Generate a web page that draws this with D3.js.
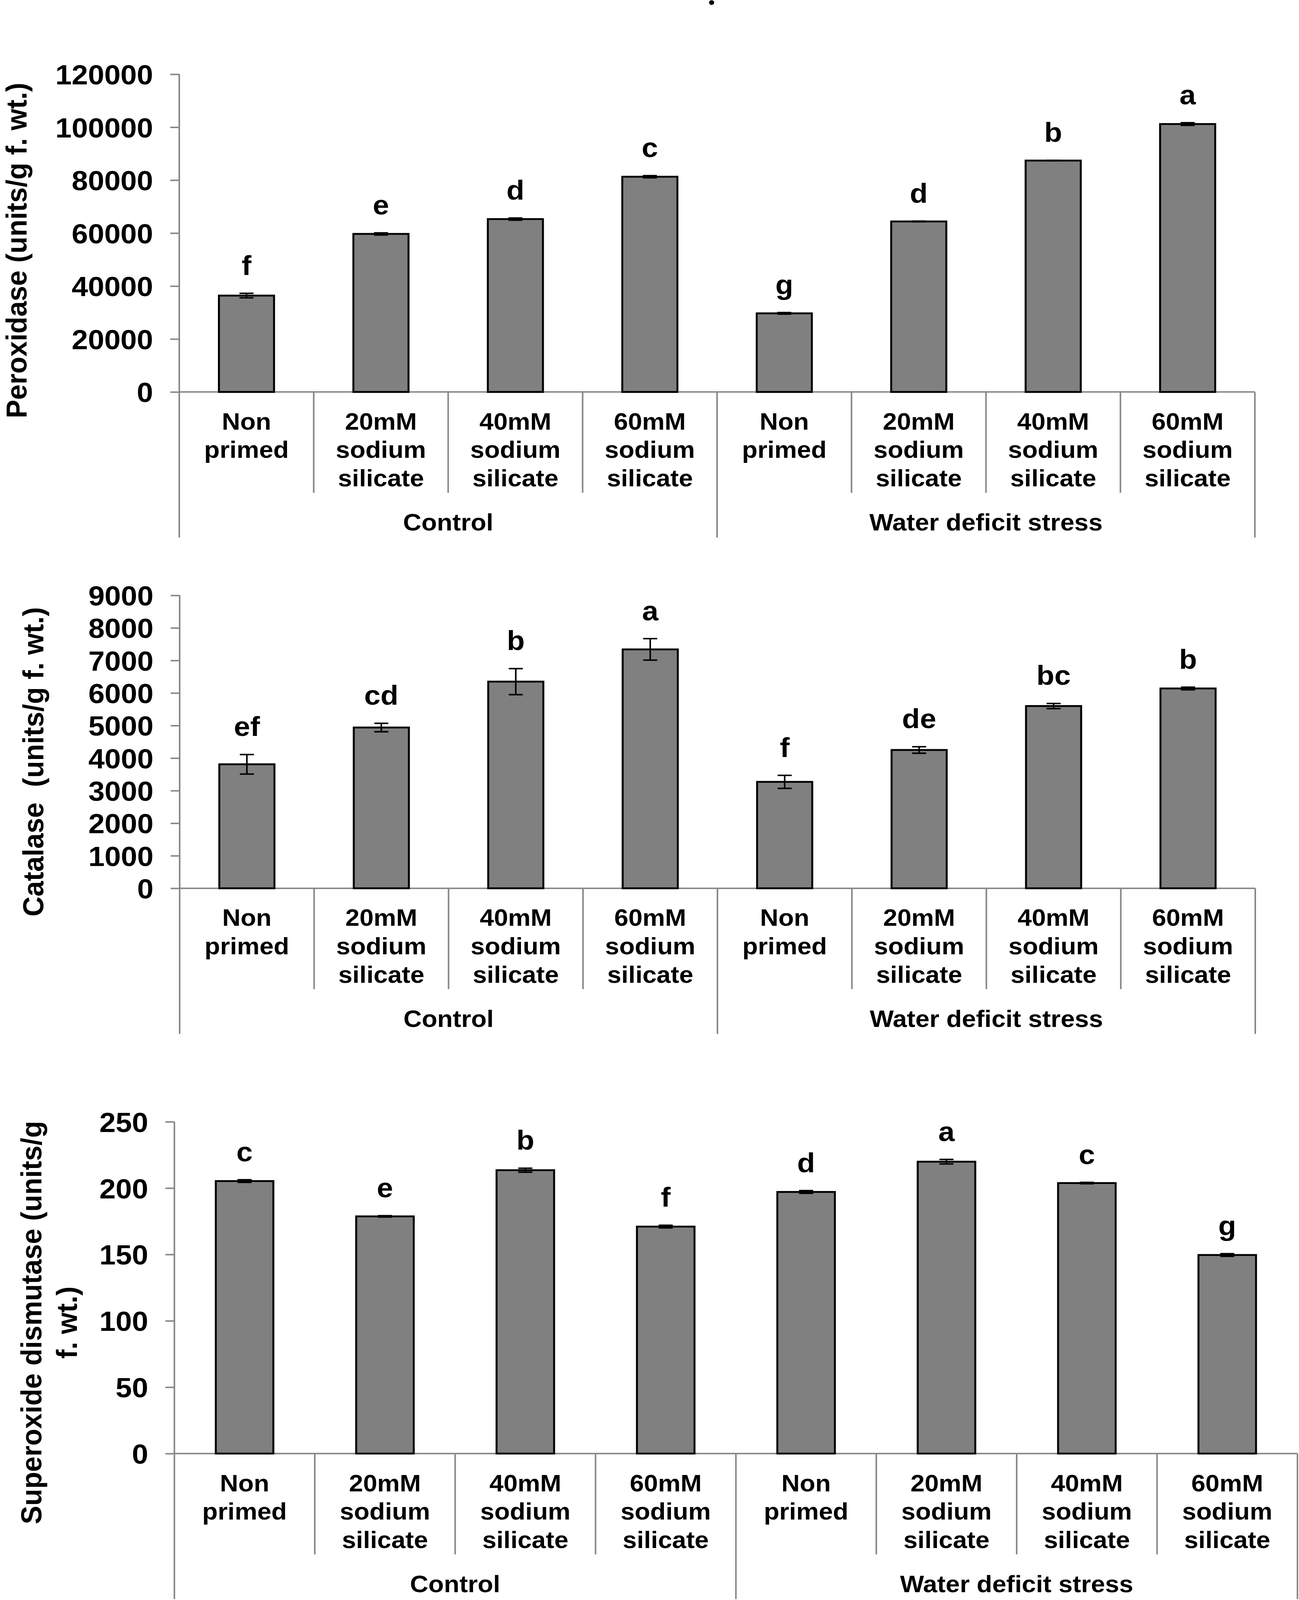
<!DOCTYPE html>
<html>
<head>
<meta charset="utf-8">
<script src="https://cdn.jsdelivr.net/npm/d3@7"></script>
<style>
  html, body { margin: 0; padding: 0; background: #fff; overflow: hidden; width: 100%; height: 100%; }
  svg { display: block; width: 100vw; height: 100vh; }
  text { font-family: "Liberation Sans", Arial, sans-serif; font-weight: bold; fill: #000; }
</style>
</head>
<body>
<script>
// ---------- data ----------
const categoryLines = [
  ["Non", "primed"],
  ["20mM", "sodium", "silicate"],
  ["40mM", "sodium", "silicate"],
  ["60mM", "sodium", "silicate"],
  ["Non", "primed"],
  ["20mM", "sodium", "silicate"],
  ["40mM", "sodium", "silicate"],
  ["60mM", "sodium", "silicate"]
];
const groups = ["Control", "Water deficit stress"];

const peroxidase = [36400, 59700, 65300, 81300, 29700, 64400, 87400, 101200];
const peroxidaseErr = [850, 400, 400, 400, 300, 100, 60, 500];
const peroxidaseLetters = ["f", "e", "d", "c", "g", "d", "b", "a"];
const peroxidaseTicks = [0, 20000, 40000, 60000, 80000, 100000, 120000];

const catalase = [3810, 4940, 6350, 7340, 3270, 4250, 5600, 6140];
const catalaseErr = [300, 130, 400, 330, 200, 100, 80, 40];
const catalaseLetters = ["ef", "cd", "b", "a", "f", "de", "bc", "b"];
const catalaseTicks = [0, 1000, 2000, 3000, 4000, 5000, 6000, 7000, 8000, 9000];

const sod = [205.3, 178.7, 213.5, 171.0, 197.1, 219.9, 203.8, 149.6];
const sodErr = [1.0, 0.5, 1.5, 1.0, 1.0, 1.7, 0.5, 1.0];
const sodLetters = ["c", "e", "b", "f", "d", "a", "c", "g"];
const sodTicks = [0, 50, 100, 150, 200, 250];

// ---------- layout ----------
const W = 3326, H = 4331;
const svg = d3.select("body").append("svg")
  .attr("viewBox", `0 0 ${W} ${H}`)
  .attr("preserveAspectRatio", "none");

const AXIS_COLOR = "#878787";
const panels = [
  { values: peroxidase, errs: peroxidaseErr, letters: peroxidaseLetters, ticks: peroxidaseTicks,
    x0: 459, x1: 3213, yTop: 201, yZero: 1061,
    title: ["Peroxidase (units/g f. wt.)"], titleX: [68], titleY: 678 },
  { values: catalase, errs: catalaseErr, letters: catalaseLetters, ticks: catalaseTicks,
    x0: 460, x1: 3214, yTop: 1611.6, yZero: 2404.5,
    title: ["Catalase  (units/g f. wt.)"], titleX: [111], titleY: 2062 },
  { values: sod, errs: sodErr, letters: sodLetters, ticks: sodTicks,
    x0: 446.5, x1: 3322, yTop: 3036.4, yZero: 3934.6,
    title: ["Superoxide dismutase (units/g", "f. wt.)"], titleX: [106, 197], titleY: 3580 }
];

const idx = d3.range(categoryLines.length);

panels.forEach(p => {
  const g = svg.append("g");
  const x = d3.scaleBand().domain(idx).range([p.x0, p.x1]).paddingInner(0.59).paddingOuter(0.295);
  const xc = d3.scaleBand().domain(idx).range([p.x0, p.x1]).padding(0);
  const y = d3.scaleLinear().domain([0, d3.max(p.ticks)]).range([p.yZero, p.yTop]);

  // y axis with ticks
  const yAxis = d3.axisLeft(y).tickValues(p.ticks).tickSize(23).tickPadding(44).tickSizeOuter(0)
    .tickFormat(d3.format("d"));
  const ag = g.append("g").attr("transform", `translate(${p.x0},0)`).call(yAxis);
  ag.select(".domain").remove();
  ag.selectAll(".tick line").attr("stroke", AXIS_COLOR).attr("stroke-width", 4);
  ag.selectAll(".tick text")
    .attr("font-size", 75).attr("font-family", "Liberation Sans, Arial, sans-serif")
    .attr("font-weight", "bold").attr("fill", "#000").attr("dy", "0.36em");

  const step = xc.step();
  const catDepth = 273, grpDepth = 394;
  // y axis line (continues down as the first group separator)
  g.append("line").attr("x1", p.x0).attr("x2", p.x0)
    .attr("y1", y(d3.max(p.ticks))).attr("y2", p.yZero + grpDepth)
    .attr("stroke", AXIS_COLOR).attr("stroke-width", 4);
  // x axis line
  g.append("line").attr("x1", p.x0).attr("x2", p.x1).attr("y1", p.yZero).attr("y2", p.yZero)
    .attr("stroke", AXIS_COLOR).attr("stroke-width", 4);
  // separators
  d3.range(1, idx.length + 1).forEach(i => {
    const xs = i === idx.length ? p.x1 : xc(i);
    const isGroup = (i % 4 === 0);
    g.append("line").attr("x1", xs).attr("x2", xs)
      .attr("y1", p.yZero).attr("y2", p.yZero + (isGroup ? grpDepth : catDepth))
      .attr("stroke", AXIS_COLOR).attr("stroke-width", 4);
  });

  // bars
  g.selectAll("rect.bar").data(p.values).join("rect").attr("class", "bar")
    .attr("x", (d, i) => x(i)).attr("width", x.bandwidth())
    .attr("y", d => y(d)).attr("height", d => p.yZero - y(d))
    .attr("fill", "#808080").attr("stroke", "#000").attr("stroke-width", 5);

  // error bars + letters
  const cap = 18;
  p.values.forEach((v, i) => {
    const cx = x(i) + x.bandwidth() / 2;
    const e = p.errs[i];
    const eg = g.append("g").attr("stroke", "#000").attr("stroke-width", 4);
    eg.append("line").attr("x1", cx).attr("x2", cx).attr("y1", y(v + e)).attr("y2", y(v - e));
    eg.append("line").attr("x1", cx - cap).attr("x2", cx + cap).attr("y1", y(v + e)).attr("y2", y(v + e));
    eg.append("line").attr("x1", cx - cap).attr("x2", cx + cap).attr("y1", y(v - e)).attr("y2", y(v - e));
    g.append("text").attr("x", cx).attr("y", y(v + e) - 50)
      .attr("text-anchor", "middle").attr("font-size", 75).text(p.letters[i]);
  });

  // category labels
  categoryLines.forEach((lines, i) => {
    const cx = xc(i) + step / 2;
    lines.forEach((ln, k) => {
      g.append("text").attr("x", cx).attr("y", p.yZero + 102 + k * 76.7)
        .attr("text-anchor", "middle").attr("font-size", 65).text(ln);
    });
  });

  // group labels
  groups.forEach((gl, j) => {
    const gx = (xc(j * 4) + (j === groups.length - 1 ? p.x1 : xc(j * 4 + 4))) / 2;
    g.append("text").attr("x", gx).attr("y", p.yZero + 375)
      .attr("text-anchor", "middle").attr("font-size", 65).text(gl);
  });

  // y title
  p.title.forEach((t, k) => {
    g.append("text")
      .attr("transform", `translate(${p.titleX[k]},${p.titleY}) rotate(-90)`)
      .attr("text-anchor", "middle").attr("font-size", 75)
      .style("white-space", "pre").text(t);
  });
});

// stray dot mark at top of the figure
svg.append("circle").attr("cx", 1822).attr("cy", 7).attr("r", 6.5).attr("fill", "#000");
</script>
</body>
</html>
